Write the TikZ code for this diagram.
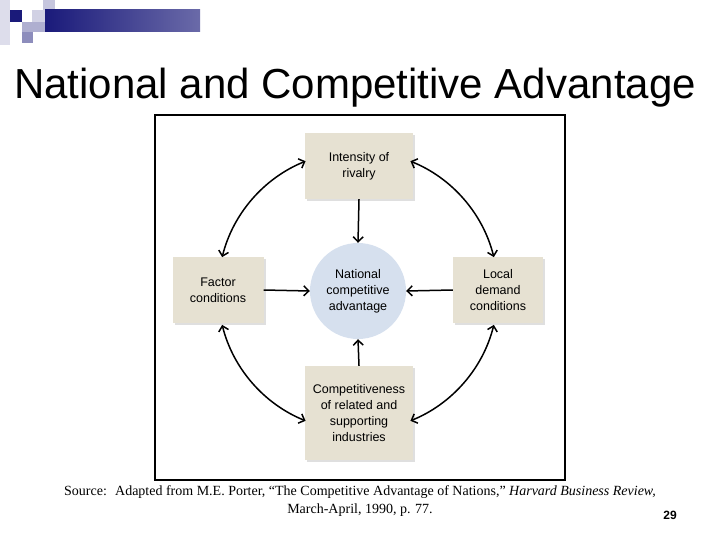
\documentclass[tikz,border=0pt]{standalone}
\usepackage{fontspec}
\setmainfont{Liberation Serif}
\newfontfamily\arial{Liberation Sans}
\usetikzlibrary{arrows.meta,shadows,calc}
\definecolor{beige}{HTML}{E6E1D2}
\definecolor{cblue}{HTML}{D6E0EE}
\definecolor{navy}{HTML}{1A1A7A}
\begin{document}
\begin{tikzpicture}[x=1pt,y=-1pt,
  box/.style={fill=beige,minimum width=#1,align=center,font=\arial\fontsize{12.5}{16}\selectfont,drop shadow={shadow xshift=2pt,shadow yshift=-2pt,fill=black!25}},
  arr/.style={-{Straight Barb[length=5pt,width=10pt]},line width=1.5pt},
  dbl/.style={{Straight Barb[length=5pt,width=10pt]}-{Straight Barb[length=5pt,width=10pt]},line width=1.5pt}]
\useasboundingbox (0,0) rectangle (720,540);
% header decoration
\fill[navy!15] (0,0) rectangle (10,45);
\fill[navy!25] (43,0) rectangle (55,10);
\fill[navy!20] (32,10) rectangle (55,22);
\fill[navy] (10,10) rectangle (22,22);
\fill[navy!35] (22,22) rectangle (45,32);
\fill[navy!50] (22,32) rectangle (33,43);
\shade[left color=navy,right color=navy!65] (45,10) rectangle (200,32);
% title
\node (title) at (355,88) {\arial\fontsize{42}{46}\selectfont National and Competitive Advantage};
% frame
\draw[line width=1.5pt] (155,115) rectangle (565,480);
% nodes
\node[circle,fill=cblue,minimum size=96pt,align=center,font=\arial\fontsize{12.5}{16}\selectfont] (ctr) at (358,291) {National\\competitive\\advantage};
\node[box=108pt,minimum height=66pt] (top) at (359,166) {Intensity of\\rivalry};
\node[box=91pt,minimum height=66pt] (left) at (218,290) {Factor\\conditions};
\node[box=90pt,minimum height=66pt] (right) at (498,290) {Local\\demand\\conditions};
\node[box=108pt,minimum height=94pt] (bot) at (359,413) {Competitiveness\\of related and\\supporting\\industries};
% straight arrows
\draw[arr] (top.south) -- (ctr.north);
\draw[arr] (left.east) -- (ctr.west);
\draw[arr] (right.west) -- (ctr.east);
\draw[arr] (bot.north) -- (ctr.south);
% arcs
\coordinate (o) at (358,291);
\draw[dbl] ($(o)+(248:140)$) arc[start angle=248,end angle=194,radius=140];
\draw[dbl] ($(o)+(292:140)$) arc[start angle=292,end angle=346,radius=140];
\draw[dbl] ($(o)+(166:140)$) arc[start angle=166,end angle=112,radius=140];
\draw[dbl] ($(o)+(14:140)$) arc[start angle=14,end angle=68,radius=140];
% source
\node[align=center,font=\fontsize{14}{18}\selectfont] (src) at (360,501) {Source: \ Adapted from M.E. Porter, ``The Competitive Advantage of Nations,'' \textit{Harvard Business Review,}\\March-April, 1990, p. 77.};
\node[font=\arial\bfseries\fontsize{12}{13}\selectfont] (pg) at (670,515) {29};
\end{tikzpicture}
\end{document}
